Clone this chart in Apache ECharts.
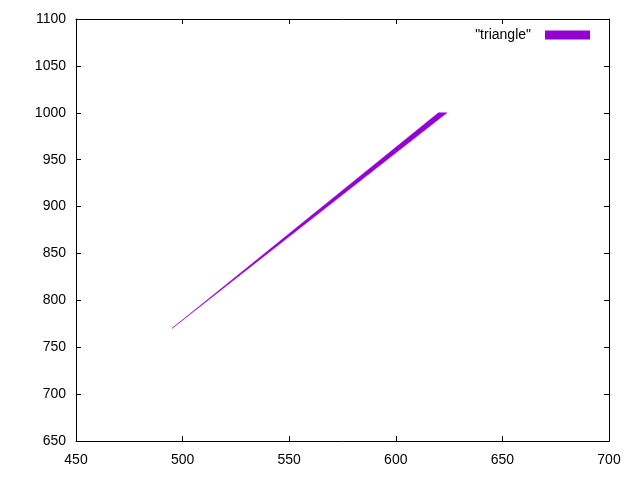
<!DOCTYPE html>
<html><head><meta charset="utf-8">
<script src="https://cdn.jsdelivr.net/npm/echarts@6/dist/echarts.min.js"></script>
<style>html,body{margin:0;padding:0;background:#fff}#c{width:640px;height:480px}</style>
</head><body><div id="c"></div>
<script>
const seriesName = '"triangle"';
const triX = [495, 620, 624];
const triY = [770, 1000, 1000];
const xTicks = [450, 500, 550, 600, 650, 700];
const yTicks = [650, 700, 750, 800, 850, 900, 950, 1000, 1050, 1100];

const color = '#9400D3';
const font = 'Liberation Sans, Arial, sans-serif';
const pts = triX.map((x, i) => [x, triY[i]]);

const axisCommon = {
  type: 'value',
  axisLine: { show: true, lineStyle: { color: '#000', width: 1 } },
  axisTick: { show: true, inside: true, length: 5, lineStyle: { color: '#000' } },
  splitLine: { show: false },
  axisLabel: { color: '#000', fontFamily: font, fontSize: 14, formatter: v => String(v) }
};

const chart = echarts.init(document.getElementById('c'), null, { renderer: 'canvas' });
chart.setOption({
  animation: false,
  backgroundColor: '#fff',
  grid: { left: 76, right: 31, top: 19, bottom: 39 },
  legend: {
    data: [{ name: seriesName, icon: 'rect' }],
    right: 45, top: 23, align: 'right',
    itemWidth: 45, itemHeight: 9, itemGap: 10,
    itemStyle: { color: color, borderWidth: 0, borderColor: color, decal: 'none' },
    textStyle: { color: '#000', fontFamily: font, fontSize: 14, padding: [0, 9, 0, 0] }
  },
  xAxis: [
    Object.assign({}, axisCommon, { min: xTicks[0], max: xTicks[xTicks.length - 1], interval: 50,
      axisLabel: Object.assign({}, axisCommon.axisLabel, { margin: 12 }) }),
    Object.assign({}, axisCommon, { position: 'top', min: xTicks[0], max: xTicks[xTicks.length - 1], interval: 50, axisLabel: { show: false } })
  ],
  yAxis: [
    Object.assign({}, axisCommon, { min: yTicks[0], max: yTicks[yTicks.length - 1], interval: 50,
      axisLabel: Object.assign({}, axisCommon.axisLabel, { margin: 10 }) }),
    Object.assign({}, axisCommon, { position: 'right', min: yTicks[0], max: yTicks[yTicks.length - 1], interval: 50, axisLabel: { show: false } })
  ],
  series: [{
    name: seriesName,
    type: 'custom',
    itemStyle: { color: color, borderWidth: 0 },
    data: [0],
    renderItem: function (params, api) {
      const points = pts.map(p => api.coord(p));
      return {
        type: 'polygon',
        shape: { points: points },
        style: { fill: color, stroke: color, lineWidth: 0.5 }
      };
    }
  }]
});
</script></body></html>
